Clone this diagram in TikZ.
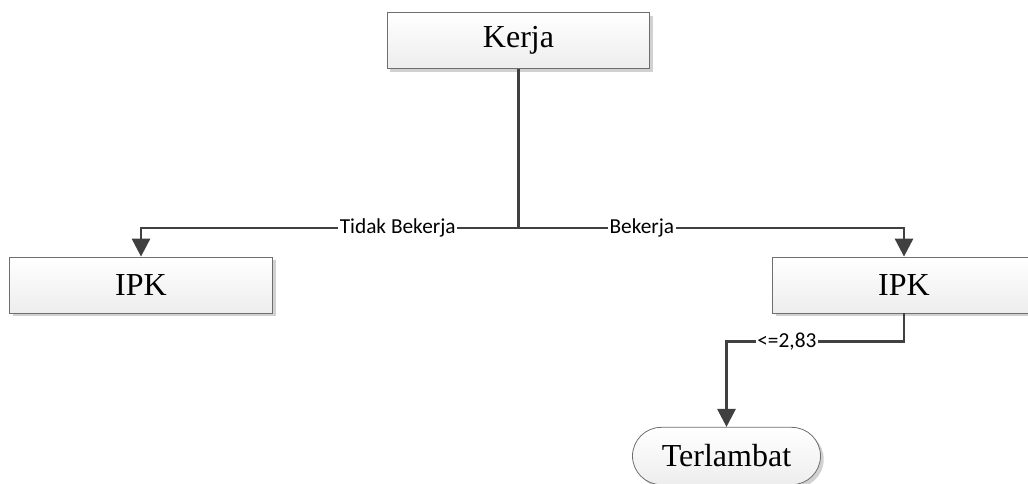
\documentclass[tikz,border=0pt]{standalone}
\usepackage{fontspec}
\setmainfont{Liberation Serif}
\newfontfamily\labelfont{Carlito}
\usetikzlibrary{arrows.meta,shapes.misc,shadows}

\definecolor{garis}{HTML}{404040}
\definecolor{tepi}{HTML}{6E6E6E}

\begin{document}
\begin{tikzpicture}[
    x=0.75pt, y=-0.75pt,
    every node/.style={font=\fontsize{24}{28}\selectfont},
    block/.style={rectangle, draw=tepi, line width=0.6pt, top color=white, bottom color=black!7,
        drop shadow={shadow xshift=2.4pt, shadow yshift=-2.4pt, fill=black!18, opacity=1},
        minimum width=197pt, minimum height=42pt, inner sep=0pt},
    leaf/.style={rounded rectangle, draw=tepi, line width=0.6pt, top color=white, bottom color=black!7,
        drop shadow={shadow xshift=2.4pt, shadow yshift=-2.4pt, fill=black!18, opacity=1},
        minimum width=141pt, minimum height=43pt, inner sep=0pt},
    arrow/.style={-{Triangle[width=13.5pt, length=13.5pt]}, draw=garis, line width=2.2pt},
    cabang/.style={font=\labelfont\fontsize{16}{18}\selectfont, fill=white, inner sep=1pt, text=black}
]
\useasboundingbox (0,0) rectangle (1028,483);

\node[block] (kerja) at (518.5,40.5) {Kerja};
\node[block] (ipkkiri) at (141,285) {IPK};
\node[block] (ipkkanan) at (904,285) {IPK};
\node[leaf] (terlambat) at (726.5,456) {Terlambat};

\coordinate (pisah) at (518.5,228);

\draw[draw=garis, line width=2.2pt] (kerja.south) -- (pisah);
\draw[arrow] (pisah) -| node[cabang, pos=0.16] {Tidak Bekerja} (ipkkiri.north);
\draw[arrow] (pisah) -| node[cabang, pos=0.16] {Bekerja} (ipkkanan.north);
\draw[arrow] (ipkkanan.south) -- ++(0,28) -| node[cabang, pos=0.33] {<=2,83} (terlambat.north);

\end{tikzpicture}
\end{document}
